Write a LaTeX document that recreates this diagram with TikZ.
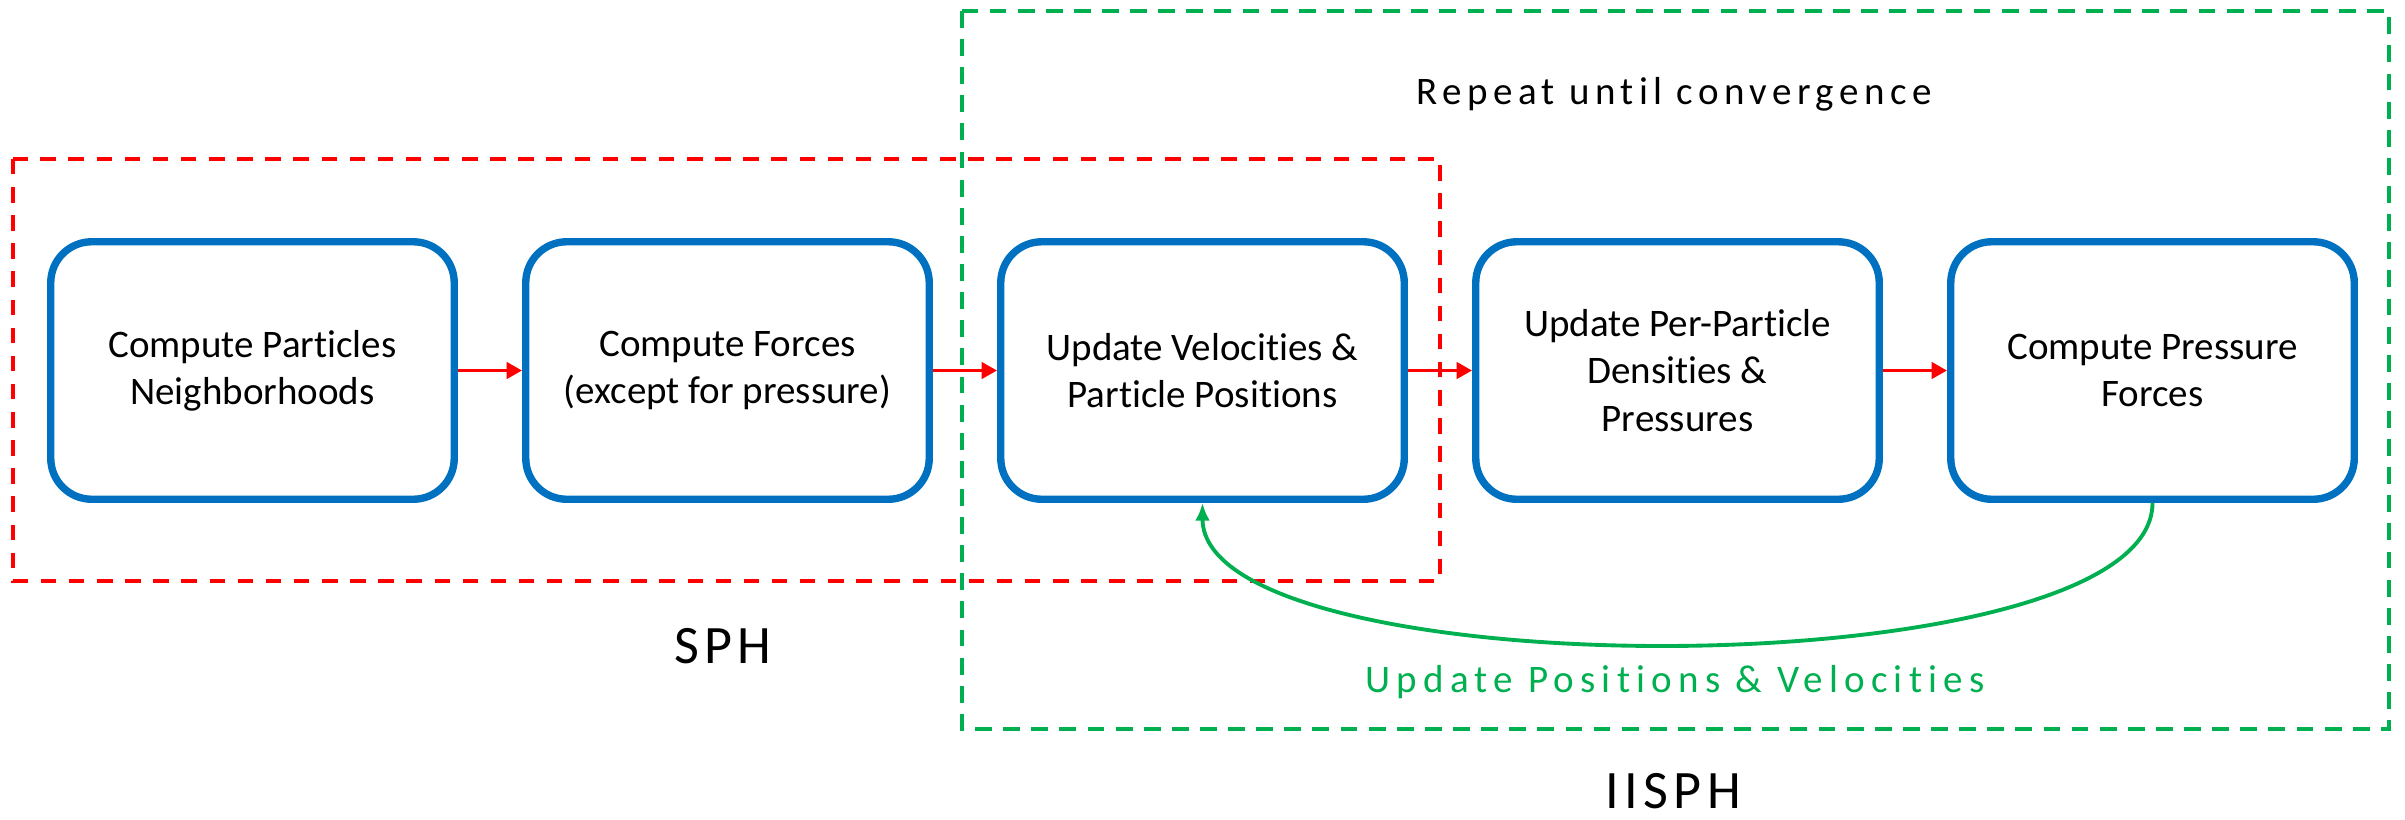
\documentclass[tikz,border=0pt]{standalone}
\usepackage{fontspec}
\setmainfont{Carlito}[Ligatures=NoCommon]
\usetikzlibrary{arrows.meta}
\definecolor{boxblue}{HTML}{0070C0}
\definecolor{sphred}{HTML}{FF0000}
\definecolor{iigreen}{HTML}{00B050}
\begin{document}
\begin{tikzpicture}[
  stepbox/.style={draw=boxblue, line width=2.1pt, rounded corners=0.41cm,
    minimum width=4.035cm, minimum height=2.575cm, inner sep=0pt, align=center,
    font=\fontsize{11.1}{13.4}\selectfont, text=black},
  flow/.style={draw=sphred, line width=1.1pt, -{Triangle[length=4.4pt,width=4.6pt]}},
  loopback/.style={draw=iigreen, line width=1.1pt, -{Latex[length=5pt,width=4.2pt]}},
  sphframe/.style={draw=sphred, line width=1.15pt, dash pattern=on 4.4pt off 3.6pt},
  iiframe/.style={draw=iigreen, line width=1.05pt, dash pattern=on 4.8pt off 3.2pt},
  caption/.style={anchor=base, inner sep=0pt, text depth=0pt, font=\fontsize{15.4}{18}\selectfont\addfontfeature{LetterSpace=10}},
  note/.style={anchor=base, inner sep=0pt, font=\fontsize{11.1}{13.4}\selectfont\addfontfeature{LetterSpace=14}}
]
\useasboundingbox (0,0) rectangle (24.05,-8.19);

% group frames
\draw[sphframe] (0.13,-1.59) rectangle (14.40,-5.81);
\draw[iiframe] (9.62,-0.11) rectangle (23.89,-7.29);

% pipeline steps
\node[stepbox] (b1) at (2.525,-3.705) {Compute Particles\\Neighborhoods};
\node[stepbox] (b2) at (7.275,-3.705) {Compute Forces\\(except for pressure)};
\node[stepbox] (b3) at (12.025,-3.705) {Update Velocities \&\\Particle Positions};
\node[stepbox] (b4) at (16.775,-3.705) {Update Per-Particle\\Densities \&\\Pressures};
\node[stepbox] (b5) at (21.525,-3.705) {Compute Pressure\\Forces};

\draw[flow] (b1) -- (b2);
\draw[flow] (b2) -- (b3);
\draw[flow] (b3) -- (b4);
\draw[flow] (b4) -- (b5);

% pressure iteration loop
\draw[loopback] (b5.south) .. controls +(0,-1.88) and +(0,-1.88) .. (b3.south);

% labels
\node[note] (rep) at (16.74,-1.04) {Repeat until convergence};
\node[note, text=iigreen, font=\fontsize{11.1}{13.4}\selectfont\addfontfeature{LetterSpace=16}] (upd) at (16.75,-6.92) {Update Positions \& Velocities};
\node[caption] (sph) at (7.23,-6.63) {SPH};
\node[caption] (iisph) at (16.73,-8.08) {IISPH};
\end{tikzpicture}
\end{document}
